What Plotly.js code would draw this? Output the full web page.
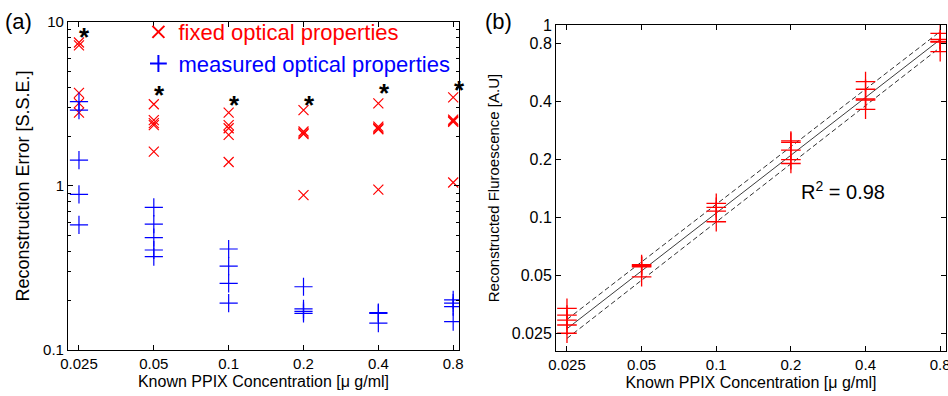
<!DOCTYPE html>
<html><head><meta charset="utf-8">
<script src="https://cdn.plot.ly/plotly-3.0.1.min.js"></script>
<style>body{margin:0;background:#fff}#c{width:948px;height:396px}</style>
</head><body><div id="c"></div>
<script>
// ---- data ----
const concentrations = [0.025, 0.05, 0.1, 0.2, 0.4, 0.8];
const concLabels = ['0.025', '0.05', '0.1', '0.2', '0.4', '0.8'];
// (a) reconstruction error, fixed optical properties
const fixedErr = [
  [7.5, 7.2, 3.7, 3.2, 2.8],
  [3.15, 2.52, 2.42, 2.35, 1.62],
  [2.8, 2.35, 2.25, 2.05, 1.40],
  [2.9, 2.15, 2.1, 2.07, 0.88],
  [3.19, 2.3, 2.25, 2.22, 0.95],
  [3.47, 2.54, 2.5, 2.46, 1.05]
];
// (a) reconstruction error, measured optical properties
const measuredErr = [
  [3.27, 2.9, 1.44, 0.89, 0.58],
  [0.74, 0.586, 0.484, 0.407, 0.371],
  [0.413, 0.325, 0.255, 0.193],
  [0.243, 0.178, 0.172, 0.167],
  [0.169, 0.167, 0.146],
  [0.202, 0.193, 0.184, 0.149]
];
// (a) significance stars
const starY = [8.6, 3.8, 3.3, 3.3, 3.9, 4.1];
const errTickVals = [0.1, 1, 10];
const errTickText = ['0.1', '1', '10'];
const errMinor = [0.2,0.3,0.4,0.5,0.6,0.7,0.8,0.9,2,3,4,5,6,7,8,9];
// (b) reconstructed fluorescence
const fluor = [
  [0.0338, 0.0312, 0.0294, 0.0277, 0.0251],
  [0.057, 0.0563, 0.0556, 0.0493],
  [0.1186, 0.113, 0.108, 0.0952],
  [0.25, 0.246, 0.224, 0.2, 0.191],
  [0.508, 0.464, 0.413, 0.408, 0.365],
  [0.905, 0.843, 0.822, 0.816, 0.727]
];
const fitX = [0.025, 0.8];
const fitY = [0.0265, 0.84];
const fitUpper = [0.0296, 0.925];
const fitLower = [0.0236, 0.765];
const fluorTickVals = [0.025, 0.05, 0.1, 0.2, 0.4, 0.8, 1];
const fluorTickText = ['0.025', '0.05', '0.1', '0.2', '0.4', '0.8', '1'];

// ---- helpers ----
function flatten(groups) {
  const x = [], y = [];
  groups.forEach((g, i) => g.forEach(v => { x.push(concentrations[i]); y.push(v); }));
  return {x, y};
}
const F = flatten(fixedErr), M = flatten(measuredErr), R = flatten(fluor);
const RED = 'rgb(255,0,0)', BLUE = 'rgb(0,0,255)';
const FONT = 'Liberation Sans, Arial, Helvetica, sans-serif';

const traces = [
  {x: F.x, y: F.y, xaxis: 'x', yaxis: 'y', mode: 'markers', type: 'scatter',
   name: '<span style="color:rgb(255,0,0)">fixed optical properties</span>',
   marker: {symbol: 'x-thin-open', size: 10, color: RED, line: {color: RED, width: 1.2}}},
  {x: M.x, y: M.y, xaxis: 'x', yaxis: 'y', mode: 'markers', type: 'scatter',
   name: '<span style="color:rgb(0,0,255)">measured optical properties</span>',
   marker: {symbol: 'cross-thin-open', size: 13, color: BLUE, line: {color: BLUE, width: 1.2}}},
  {x: fitX, y: fitUpper, xaxis: 'x2', yaxis: 'y2', mode: 'lines', type: 'scatter', showlegend: false,
   line: {color: 'rgb(50,50,50)', width: 1, dash: '5px,3px'}},
  {x: fitX, y: fitLower, xaxis: 'x2', yaxis: 'y2', mode: 'lines', type: 'scatter', showlegend: false,
   line: {color: 'rgb(50,50,50)', width: 1, dash: '5px,3px'}},
  {x: fitX, y: fitY, xaxis: 'x2', yaxis: 'y2', mode: 'lines', type: 'scatter', showlegend: false,
   line: {color: 'rgb(60,60,60)', width: 1}},
  {x: R.x, y: R.y, xaxis: 'x2', yaxis: 'y2', mode: 'markers', type: 'scatter', showlegend: false,
   marker: {symbol: 'cross-thin-open', size: 14, color: RED, line: {color: RED, width: 1.3}}}
];

const L2 = Math.log10(2);
const xr = [Math.log10(0.025) - 0.147 * L2, Math.log10(0.8) + 0.078 * L2];
const axBase = {showline: true, linecolor: 'black', linewidth: 1, mirror: 'allticks',
  ticks: 'inside', ticklen: 5, tickcolor: 'black', showgrid: false, zeroline: false,
  ticklabeloverflow: 'allow',
  tickfont: {size: 15, color: 'black', family: FONT}};

const annotations = concentrations.map((c, i) => ({
  x: Math.log10(c), y: Math.log10(starY[i]), xref: 'x', yref: 'y', text: '<b>*</b>',
  showarrow: false, xshift: 6, yshift: -4, font: {size: 26, color: 'black', family: FONT}
}));
annotations.push({x: 0.003, y: 0.945, xref: 'paper', yref: 'paper', text: '(a)', showarrow: false,
  xanchor: 'left', yanchor: 'middle', font: {size: 22, color: 'black', family: FONT}});
annotations.push({x: 0.510, y: 0.945, xref: 'paper', yref: 'paper', text: '(b)', showarrow: false,
  xanchor: 'left', yanchor: 'middle', font: {size: 22, color: 'black', family: FONT}});
annotations.push({x: Math.log10(0.2) + 0.11 * L2, y: Math.log10(0.139), xref: 'x2', yref: 'y2',
  text: 'R<sup>2</sup> = 0.98', showarrow: false, xanchor: 'left',
  font: {size: 20, color: 'black', family: FONT}});

const layout = {
  width: 948, height: 396,
  margin: {l: 0, r: 0, t: 0, b: 0},
  paper_bgcolor: 'white', plot_bgcolor: 'white',
  font: {family: FONT, color: 'black'},
  showlegend: true,
  legend: {x: 0.146, y: 0.972, xanchor: 'left', yanchor: 'top', bgcolor: 'rgba(0,0,0,0)',
    font: {size: 22, family: FONT}, tracegroupgap: 0, itemsizing: 'constant'},
  xaxis: Object.assign({}, axBase, {type: 'log', domain: [0.0717, 0.4842], range: xr,
    tickmode: 'array', tickvals: concentrations, ticktext: concLabels, anchor: 'y',
    title: {text: 'Known PPIX Concentration [\u03bc g/ml]', font: {size: 16}, standoff: 4}}),
  yaxis: Object.assign({}, axBase, {type: 'log', domain: [0.1162, 0.9444], range: [-1, 1],
    tickmode: 'array', tickvals: errTickVals, ticktext: errTickText, anchor: 'x',
    minor: {tickmode: 'array', tickvals: errMinor, ticks: 'inside', ticklen: 3, tickcolor: 'black'},
    title: {text: 'Reconstruction Error [S.S.E.]', font: {size: 18}, standoff: 8}}),
  xaxis2: Object.assign({}, axBase, {type: 'log', domain: [0.5865, 0.9979], range: xr,
    tickmode: 'array', tickvals: concentrations, ticktext: concLabels, anchor: 'y2',
    title: {text: 'Known PPIX Concentration [\u03bc g/ml]', font: {size: 16}, standoff: 4}}),
  yaxis2: Object.assign({}, axBase, {type: 'log', domain: [0.1136, 0.9369], range: [Math.log10(0.0203), 0],
    tickmode: 'array', tickvals: fluorTickVals, ticktext: fluorTickText, anchor: 'x2',
    tickfont: {size: 16, color: 'black', family: FONT},
    title: {text: 'Reconstructed Fluroescence [A.U]', font: {size: 15}, standoff: 8}}),
  annotations: annotations
};

Plotly.newPlot('c', traces, layout, {staticPlot: true, displayModeBar: false});
</script></body></html>
